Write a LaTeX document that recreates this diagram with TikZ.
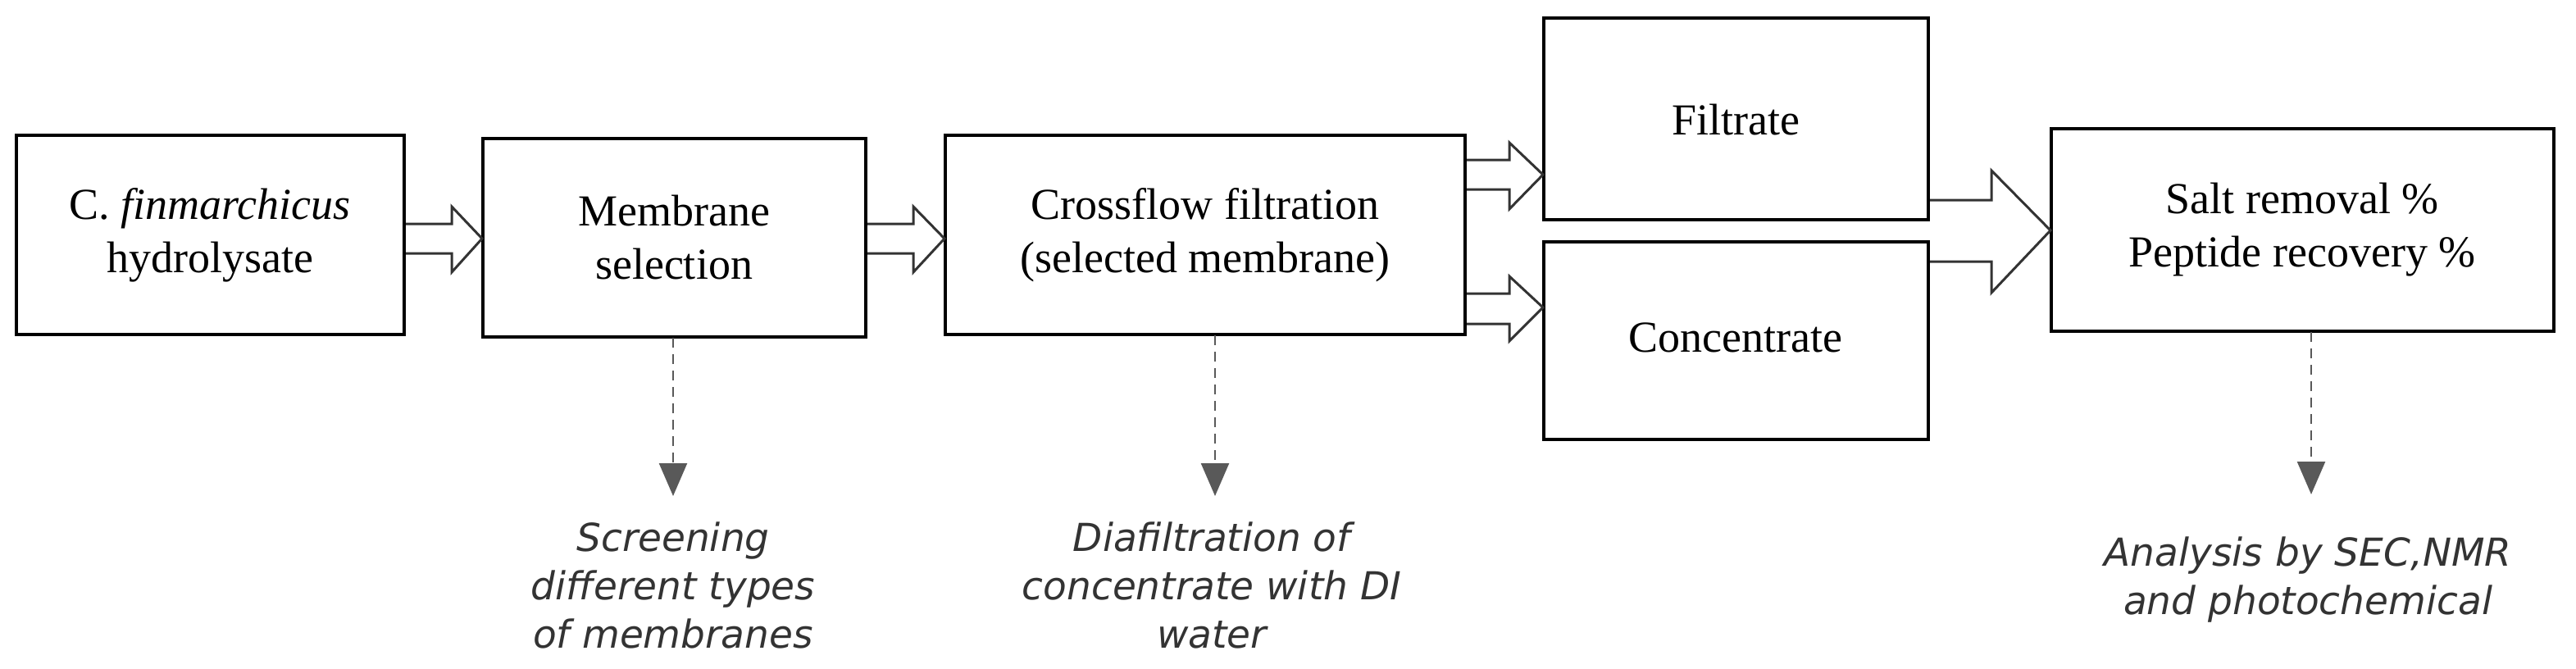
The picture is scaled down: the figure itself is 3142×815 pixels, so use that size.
\documentclass[tikz,border=0pt]{standalone}
\usepackage{fontspec}
\setmainfont{Liberation Serif}
\newfontfamily\notefont{DejaVu Sans}
\usetikzlibrary{arrows.meta}
\begin{document}
\begin{tikzpicture}[x=0.5pt,y=-0.5pt,
  box/.style={draw,line width=2pt,inner sep=0pt},
  boxtext/.style={align=center,font=\fontsize{27}{32.5}\selectfont},
  note/.style={align=center,font=\notefont\itshape\fontsize{23.5}{29.5}\selectfont,text=black!80},
  hollow/.style={draw=black!80,line width=1.5pt,fill=white,line join=miter},
  dasharrow/.style={draw=black!65,line width=1.2pt,dash pattern=on 6pt off 4pt,-{Triangle[length=20pt,width=17pt]}}]
\useasboundingbox (0,0) rectangle (3142,815);
% boxes
\draw[box] (20,165) rectangle (493,408); \node[boxtext] (t1) at (256,287) {C.\ \textit{finmarchicus}\\hydrolysate};
\draw[box] (589,169) rectangle (1056,411); \node[boxtext] (t2) at (822,290) {Membrane\\selection};
\draw[box] (1153,165) rectangle (1787,408); \node[boxtext] (t3) at (1470,287) {Crossflow filtration\\(selected membrane)};
\draw[box] (1883,22) rectangle (2352,268); \node[boxtext] (t4) at (2117,146) {Filtrate};
\draw[box] (1883,295) rectangle (2352,536); \node[boxtext] (t5) at (2117,412) {Concentrate};
\draw[box] (2502,157) rectangle (3115,404); \node[boxtext] (t6) at (2808,280) {Salt removal \%\\Peptide recovery \%};
% hollow arrows
\draw[hollow] (495,273) -- (551,273) -- (551,252) -- (588,291) -- (551,332) -- (551,309) -- (495,309);
\draw[hollow] (1058,273) -- (1114,273) -- (1114,252) -- (1152,291) -- (1114,332) -- (1114,309) -- (1058,309);
\draw[hollow] (1789,195) -- (1841,195) -- (1841,174) -- (1882,213) -- (1841,255) -- (1841,231) -- (1789,231);
\draw[hollow] (1789,358) -- (1841,358) -- (1841,337) -- (1882,375) -- (1841,416) -- (1841,395) -- (1789,395);
\draw[hollow] (2354,244) -- (2429,244) -- (2429,208) -- (2501,281) -- (2429,357) -- (2429,319) -- (2354,319);
% dashed arrows
\coordinate (d1) at (821,605); \coordinate (d2) at (1482,605); \coordinate (d3) at (2819,603);
\draw[dasharrow] (821,412) -- (d1);
\draw[dasharrow] (1482,409) -- (d2);
\draw[dasharrow] (2819,405) -- (d3);
\node[note] (n1) at (821,714) {Screening\\different types\\of membranes};
\node[note] (n2) at (1478,714) {Diafiltration of\\concentrate with DI\\water};
\node[note] (n3) at (2815,707) {Analysis by SEC,NMR\\and photochemical};
\end{tikzpicture}
\end{document}
